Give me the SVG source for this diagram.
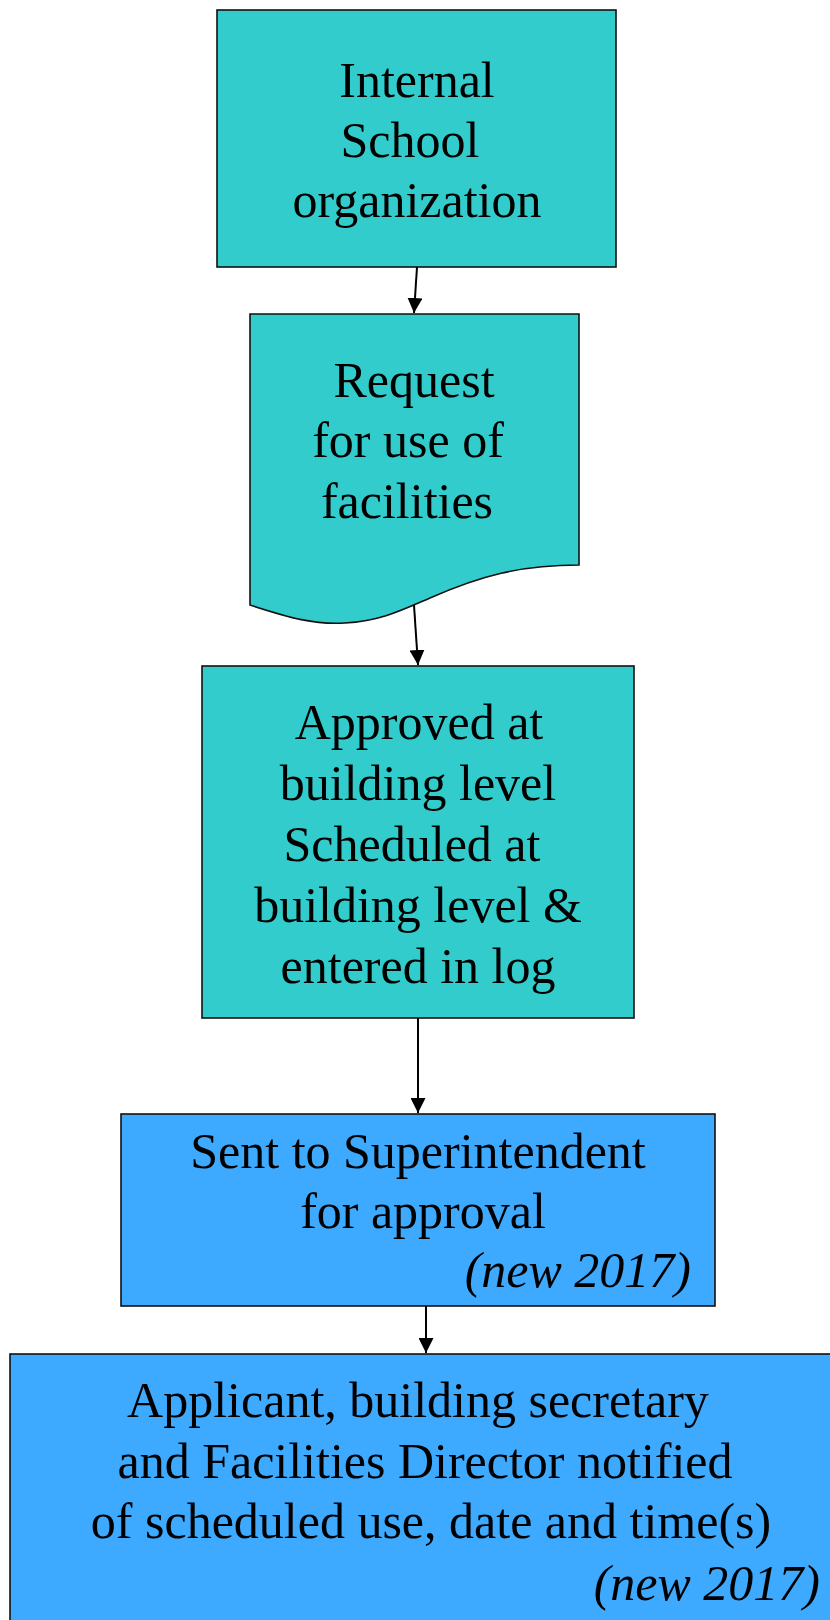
<svg xmlns="http://www.w3.org/2000/svg" width="830" height="1620" viewBox="0 0 830 1620">
<style>
.teal{fill:#33CCCC;stroke:#111;stroke-width:1.6}
.blue{fill:#3DA9FF;stroke:#111;stroke-width:1.6}
text{font-family:"Liberation Serif","Times New Roman",serif;font-size:50px;fill:#000;text-anchor:middle}
.it{font-style:italic;text-anchor:end}
.conn{stroke:#000;stroke-width:2;fill:none;marker-end:url(#ah)}
</style>
<defs>
<marker id="ah" markerWidth="15" markerHeight="15" refX="15" refY="7.5" orient="auto" markerUnits="userSpaceOnUse">
<path d="M0,0 L15,7.5 L0,15 Z" fill="#000"/>
</marker>
</defs>
<rect width="830" height="1620" fill="#fff"/>
<g id="n1">
<rect class="teal" x="217" y="10" width="399" height="257"/>
<text x="417" y="97">Internal</text>
<text x="410" y="157">School</text>
<text x="417" y="217">organization</text>
</g>
<g id="n2">
<path class="teal" d="M250,314 L579,314 L579,565 C520,565 480,576 430,598 C400,611 380,621 345,623 C315,625 290,618 250,605 Z"/>
<text x="414" y="397">Request</text>
<text x="408" y="457">for use of</text>
<text x="407" y="518">facilities</text>
</g>
<g id="n3">
<rect class="teal" x="202" y="666" width="432" height="352"/>
<text x="419" y="739">Approved at</text>
<text x="418" y="800">building level</text>
<text x="412" y="861">Scheduled at</text>
<text x="418" y="922">building level &amp;</text>
<text x="418" y="983">entered in log</text>
</g>
<g id="n4">
<rect class="blue" x="121" y="1114" width="594" height="192"/>
<text x="418" y="1168">Sent to Superintendent</text>
<text x="423" y="1228">for approval</text>
<text class="it" x="691" y="1287">(new 2017)</text>
</g>
<g id="n5">
<rect class="blue" x="10" y="1354" width="840" height="300"/>
<text x="418" y="1417">Applicant, building secretary</text>
<text x="425" y="1478">and Facilities Director notified</text>
<text x="431" y="1538">of scheduled use, date and time(s)</text>
<text class="it" x="820" y="1600">(new 2017)</text>
</g>
<g id="connectors">
<line class="conn" x1="417" y1="267" x2="414" y2="313"/>
<line class="conn" x1="414" y1="605" x2="418" y2="665"/>
<line class="conn" x1="418" y1="1018" x2="418" y2="1113"/>
<line class="conn" x1="426" y1="1306" x2="426" y2="1353"/>
</g>
</svg>
